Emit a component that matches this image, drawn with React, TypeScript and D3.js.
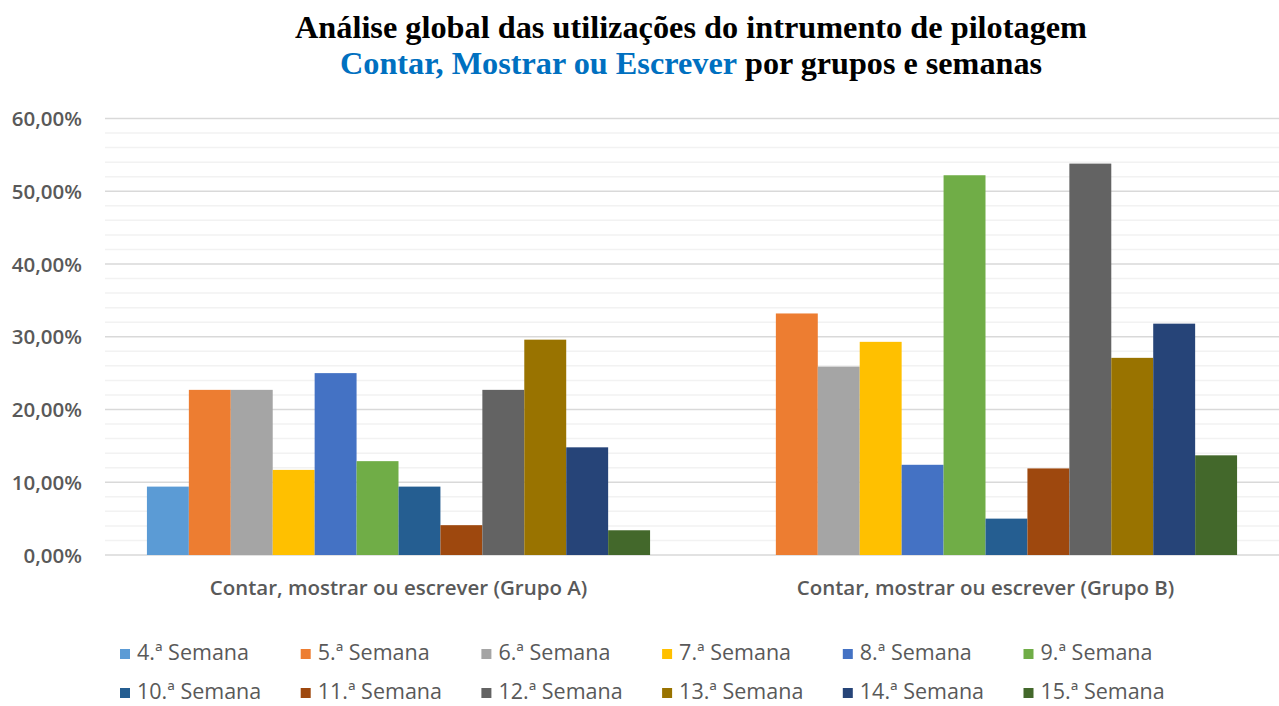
import { useRef, useEffect } from "react";
import * as d3 from "d3";

const groups = [
  "Contar, mostrar ou escrever (Grupo A)",
  "Contar, mostrar ou escrever (Grupo B)"
];

const weeks = [
  "4.ª Semana", "5.ª Semana", "6.ª Semana", "7.ª Semana",
  "8.ª Semana", "9.ª Semana", "10.ª Semana", "11.ª Semana",
  "12.ª Semana", "13.ª Semana", "14.ª Semana", "15.ª Semana"
];

// percentagens
const grupoA = [9.4, 22.7, 22.7, 11.7, 25.0, 12.9, 9.4, 4.1, 22.7, 29.6, 14.8, 3.4];
const grupoB = [0, 33.2, 25.9, 29.3, 12.4, 52.2, 5.0, 11.9, 53.8, 27.1, 31.8, 13.7];

const colors = [
  "#5B9BD5", "#ED7D31", "#A5A5A5", "#FFC000",
  "#4472C4", "#70AD47", "#255E91", "#9E480E",
  "#636363", "#997300", "#264478", "#43682B"
];

const yTicks = [0, 10, 20, 30, 40, 50, 60];

export default function App() {
  const ref = useRef<SVGSVGElement>(null);

  useEffect(() => {
    const svg = d3.select(ref.current);
    svg.selectAll("*").remove();

    const width = 1279;
    const height = 706;
    const margin = { top: 118.5, right: 0, bottom: 151, left: 105 };

    svg.attr("width", width).attr("height", height);

    const y = d3.scaleLinear()
      .domain([0, 60])
      .range([height - margin.bottom, margin.top]);

    const x0 = d3.scaleBand()
      .domain(groups)
      .range([margin.left, width - margin.right])
      .padding(0);

    const x1 = d3.scaleBand()
      .domain(weeks)
      .range([0, x0.bandwidth()])
      .paddingInner(0)
      .paddingOuter(1);

    // grelha: linhas secundárias a cada 2%, principais a cada 10%
    const minor = d3.range(2, 60, 2).filter(v => v % 10 !== 0);
    svg.append("g")
      .selectAll("line")
      .data(minor)
      .enter()
      .append("line")
      .attr("x1", margin.left)
      .attr("x2", width)
      .attr("y1", d => y(d))
      .attr("y2", d => y(d))
      .attr("stroke", "#f2f2f2")
      .attr("stroke-width", 1.5);

    svg.append("g")
      .selectAll("line")
      .data(yTicks)
      .enter()
      .append("line")
      .attr("x1", margin.left)
      .attr("x2", width)
      .attr("y1", d => y(d))
      .attr("y2", d => y(d))
      .attr("stroke", "#d9d9d9")
      .attr("stroke-width", 1.5);

    // eixo Y
    const yAxis = svg.append("g")
      .attr("transform", `translate(82,0)`)
      .call(d3.axisLeft(y).tickValues(yTicks).tickSize(0).tickPadding(0)
        .tickFormat(d => d3.format(".2f")(d as number).replace(".", ",") + "%"));
    yAxis.select(".domain").remove();
    yAxis.selectAll("text")
      .attr("font-family", "'Open Sans', sans-serif")
      .attr("font-weight", 600)
      .attr("font-size", "20.5px")
      .attr("fill", "#595959")
      .attr("dy", "0.35em");

    // barras
    const data = [grupoA, grupoB];
    groups.forEach((group, gi) => {
      const g = svg.append("g").attr("transform", `translate(${x0(group)},0)`);
      g.selectAll("rect")
        .data(weeks.map((w, i) => ({ week: w, value: data[gi][i], color: colors[i] })))
        .enter()
        .append("rect")
        .attr("x", d => x1(d.week)!)
        .attr("y", d => y(d.value))
        .attr("width", x1.bandwidth())
        .attr("height", d => y(0) - y(d.value))
        .attr("fill", d => d.color);
    });

    // eixo X
    const xAxis = svg.append("g")
      .attr("transform", `translate(0,${y(0)})`)
      .call(d3.axisBottom(x0).tickSize(0).tickPadding(0));
    xAxis.select(".domain").remove();
    xAxis.selectAll("text")
      .attr("y", 40)
      .attr("dy", 0)
      .attr("font-family", "'Open Sans', sans-serif")
      .attr("font-weight", 600)
      .attr("font-size", "20.5px")
      .attr("fill", "#595959");

    // título
    const title = svg.append("g")
      .attr("font-family", "'Liberation Serif', 'Times New Roman', serif")
      .attr("font-weight", "bold")
      .attr("font-size", "32px");

    title.append("text")
      .attr("x", 295)
      .attr("y", 38)
      .attr("textLength", 792)
      .attr("lengthAdjust", "spacingAndGlyphs")
      .attr("fill", "#000")
      .text("Análise global das utilizações do intrumento de pilotagem");

    const line2 = title.append("text").attr("y", 74);
    line2.append("tspan")
      .attr("x", 340)
      .attr("textLength", 397)
      .attr("lengthAdjust", "spacingAndGlyphs")
      .attr("fill", "#0070C0")
      .text("Contar, Mostrar ou Escrever");
    line2.append("tspan")
      .attr("x", 745)
      .attr("textLength", 297)
      .attr("lengthAdjust", "spacingAndGlyphs")
      .attr("fill", "#000")
      .text("por grupos e semanas");

    // legenda
    const legend = svg.append("g")
      .attr("font-family", "'Open Sans', sans-serif")
      .attr("font-size", "21.5px")
      .attr("fill", "#595959");

    weeks.forEach((w, i) => {
      const col = i % 6;
      const row = Math.floor(i / 6);
      const lx = 120 + col * 180.7;
      const ly = 660 + row * 39;
      const item = legend.append("g").attr("transform", `translate(${lx},${ly})`);
      item.append("rect")
        .attr("x", 0)
        .attr("y", -11)
        .attr("width", 10)
        .attr("height", 10)
        .attr("fill", colors[i]);
      item.append("text")
        .attr("x", 17)
        .attr("y", 0)
        .text(w);
    });
  }, []);

  return (
    <>
      <style>{"body{margin:0}"}</style>
      <svg ref={ref} style={{ display: "block" }}></svg>
    </>
  );
}
